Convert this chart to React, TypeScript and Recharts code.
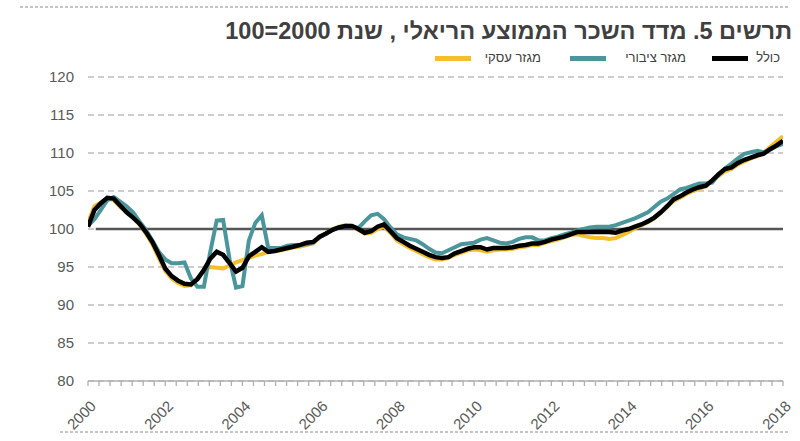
import React from "react";
import { LineChart, Line, XAxis, YAxis, CartesianGrid, ReferenceLine } from "recharts";

const START_YEAR = 2000;
const STEPS_PER_YEAR = 6; // bi-monthly observations

// מגזר עסקי
const business = [
  100.8, 103.0, 103.5, 104.0, 103.8, 102.9, 102.3, 101.6, 100.6, 99.4,
  98.0, 96.2, 94.5, 93.5, 92.9, 92.5, 92.6, 93.5, 94.6, 95.0,
  94.9, 94.8, 95.2, 95.6, 95.9, 96.2, 96.5, 96.7, 97.0, 97.1,
  97.2, 97.4, 97.6, 97.7, 97.9, 98.1, 98.9, 99.4, 100.0, 100.3,
  100.5, 100.4, 99.9, 99.4, 99.5, 100.0, 100.3, 99.5, 98.5, 98.0,
  97.5, 97.1, 96.7, 96.3, 96.0, 96.0, 96.2, 96.6, 96.9, 97.2,
  97.3, 97.2, 97.0, 97.2, 97.3, 97.3, 97.4, 97.6, 97.7, 97.9,
  97.9, 98.2, 98.4, 98.6, 98.9, 99.2, 99.3, 99.1, 98.9, 98.8,
  98.8, 98.7, 98.8, 99.2, 99.6, 100.1, 100.5, 100.9, 101.4, 102.1,
  102.9, 103.7, 104.1, 104.6, 105.0, 105.3, 105.6, 106.3, 107.0, 107.6,
  107.9, 108.5, 108.9, 109.3, 109.6, 110.0, 110.8, 111.5, 112.2,
];

// מגזר ציבורי
const publicSector = [
  100.4, 101.3, 102.5, 103.8, 104.2, 103.6, 103.0, 102.2, 101.0, 99.9,
  98.5, 97.0, 96.0, 95.5, 95.5, 95.6, 93.5, 92.4, 92.4, 97.0,
  101.1, 101.2, 96.0, 92.3, 92.5, 98.5, 100.8, 101.8, 97.5, 97.5,
  97.5, 97.8, 97.9, 97.9, 98.0, 98.2, 98.9, 99.4, 99.9, 100.2,
  100.4, 100.4, 100.1, 101.0, 101.8, 102.0, 101.3, 100.2, 99.3, 98.9,
  98.7, 98.5, 98.0, 97.4, 96.9, 96.8, 97.2, 97.6, 98.0, 98.1,
  98.2, 98.6, 98.8, 98.5, 98.2, 98.1, 98.3, 98.7, 98.9, 98.9,
  98.5, 98.5, 98.8, 99.0, 99.3, 99.5, 99.8, 100.0, 100.2, 100.3,
  100.3, 100.3, 100.5, 100.8, 101.1, 101.4, 101.8, 102.2, 102.9, 103.6,
  104.0, 104.6, 105.2, 105.4, 105.7, 106.0, 106.0, 106.1, 107.2, 108.0,
  108.6, 109.3, 109.9, 110.1, 110.3, 110.1, 110.5, 110.9, 111.2,
];

// כולל
const total = [
  100.3, 102.5, 103.4, 104.1, 104.0, 103.1, 102.2, 101.5, 100.7, 99.6,
  98.3, 96.6, 94.8, 93.8, 93.2, 92.8, 92.7, 93.4, 94.6, 96.1,
  97.0, 96.6, 95.5, 94.4, 94.9, 96.4, 97.0, 97.6, 97.0, 97.1,
  97.3, 97.5, 97.7, 97.9, 98.2, 98.3, 99.0, 99.4, 99.9, 100.2,
  100.4, 100.4, 100.0, 99.5, 99.7, 100.3, 100.6, 99.7, 98.8, 98.3,
  97.8, 97.4, 97.0, 96.6, 96.3, 96.2, 96.3, 96.8, 97.1, 97.4,
  97.6, 97.6, 97.3, 97.5, 97.5, 97.5, 97.6, 97.8, 97.9, 98.1,
  98.1, 98.3, 98.6, 98.8, 99.0, 99.3, 99.6, 99.6, 99.6, 99.6,
  99.6, 99.6, 99.5, 99.8, 100.0, 100.3, 100.6, 101.0, 101.5, 102.2,
  103.0, 103.9, 104.3, 104.8, 105.2, 105.5, 105.7, 106.4, 107.2, 107.9,
  108.1, 108.7, 109.1, 109.4, 109.7, 109.9, 110.5, 111.0, 111.6,
];

const yTicks = [80, 85, 90, 95, 100, 105, 110, 115, 120];
const yearLabels = [2000, 2002, 2004, 2006, 2008, 2010, 2012, 2014, 2016, 2018];
const MINOR_PER_LABEL = 7;

const TITLE = "תרשים 5. מדד השכר הממוצע הריאלי , שנת 2000=100";
const LEGEND = [
  { name: "כולל", color: "#000000" },
  { name: "מגזר ציבורי", color: "#4a969b" },
  { name: "מגזר עסקי", color: "#f6be28" },
];

const periods = total.map((_, i) => START_YEAR + i / STEPS_PER_YEAR);
const data = periods.map((t, i) => ({
  t,
  business: business[i],
  publicSector: publicSector[i],
  total: total[i],
}));

const xTicks: number[] = [];
for (let k = 0; k < yearLabels.length - 1; k++) {
  const a = yearLabels[k];
  const b = yearLabels[k + 1];
  for (let j = 0; j < MINOR_PER_LABEL; j++) xTicks.push(a + ((b - a) * j) / MINOR_PER_LABEL);
}
xTicks.push(yearLabels[yearLabels.length - 1]);

const FONT = '"Liberation Sans", Arial, sans-serif';

const XTick = (props: any) => {
  const { x, y, payload } = props;
  const v = payload.value as number;
  const isLabel = yearLabels.some((yl) => Math.abs(yl - v) < 1e-6);
  return (
    <g>
      <line x1={x} y1={y} x2={x} y2={y + 5} stroke="#b0b0b0" strokeWidth={1.3} />
      {isLabel && (
        <g transform={`translate(${x + 9},${y + 26}) rotate(-45)`}>
          <text x={0} y={0} textAnchor="end" fill="#595959" fontSize={15} fontFamily={FONT}>
            {Math.round(v)}
          </text>
        </g>
      )}
    </g>
  );
};

export default function App() {
  return (
    <div
      style={{
        position: "absolute",
        left: 0,
        top: 0,
        width: 800,
        height: 441,
        background: "#ffffff",
        fontFamily: FONT,
        overflow: "hidden",
      }}
    >
      <svg width={800} height={441} style={{ position: "absolute", left: 0, top: 0 }}>
        <line x1={20} y1={7} x2={790} y2={7} stroke="#8c8c8c" strokeWidth={1} strokeDasharray="3 2" />
        <line x1={60} y1={432} x2={790} y2={432} stroke="#8c8c8c" strokeWidth={1} strokeDasharray="3 2" />
      </svg>
      <div
        style={{
          position: "absolute",
          right: 8,
          top: 18,
          direction: "rtl",
          fontSize: 23.5,
          fontWeight: "bold",
          color: "#404040",
          whiteSpace: "nowrap",
          lineHeight: "26px",
        }}
      >
        {TITLE}
      </div>
      {[
        { right: 800 - 780, barLeft: 712 },
        { right: 800 - 686, barLeft: 570 },
        { right: 800 - 541, barLeft: 435 },
      ].map((pos, i) => (
        <React.Fragment key={LEGEND[i].name}>
          <div
            style={{
              position: "absolute",
              right: pos.right,
              top: 50,
              direction: "rtl",
              fontSize: 13,
              lineHeight: "16px",
              color: "#404040",
              whiteSpace: "nowrap",
            }}
          >
            {LEGEND[i].name}
          </div>
          <div
            style={{
              position: "absolute",
              left: pos.barLeft,
              top: 56,
              width: 36,
              height: 5,
              background: LEGEND[i].color,
            }}
          />
        </React.Fragment>
      ))}
      <div style={{ position: "absolute", left: 0, top: 0 }}>
        <LineChart
          width={800}
          height={441}
          data={data}
          margin={{ top: 77, right: 17, bottom: 10, left: 28 }}
        >
          <CartesianGrid
            vertical={false}
            stroke="#bdbdbd"
            strokeWidth={1.3}
            strokeDasharray="6 4"
          />
          <XAxis
            dataKey="t"
            type="number"
            domain={[2000, 2018]}
            ticks={xTicks}
            interval={0}
            tick={<XTick />}
            tickLine={false}
            tickSize={0}
            tickMargin={0}
            height={50}
            axisLine={{ stroke: "#b0b0b0", strokeWidth: 1.5 }}
            allowDataOverflow
          />
          <YAxis
            domain={[80, 120]}
            ticks={yTicks}
            interval={0}
            axisLine={false}
            tickLine={false}
            tickSize={0}
            tickMargin={14}
            width={60}
            tick={{ fill: "#595959", fontSize: 15, fontFamily: FONT }}
          />
          <ReferenceLine
            segment={[
              { x: 2000.2, y: 100 },
              { x: 2018, y: 100 },
            ]}
            stroke="#555555"
            strokeWidth={2.5}
            ifOverflow="extendDomain"
          />
          <Line
            type="linear"
            dataKey="business"
            stroke="#f6be28"
            strokeWidth={4}
            dot={false}
            isAnimationActive={false}
          />
          <Line
            type="linear"
            dataKey="publicSector"
            stroke="#4a969b"
            strokeWidth={4}
            dot={false}
            isAnimationActive={false}
          />
          <Line
            type="linear"
            dataKey="total"
            stroke="#000000"
            strokeWidth={4.5}
            dot={false}
            isAnimationActive={false}
          />
        </LineChart>
      </div>
    </div>
  );
}
